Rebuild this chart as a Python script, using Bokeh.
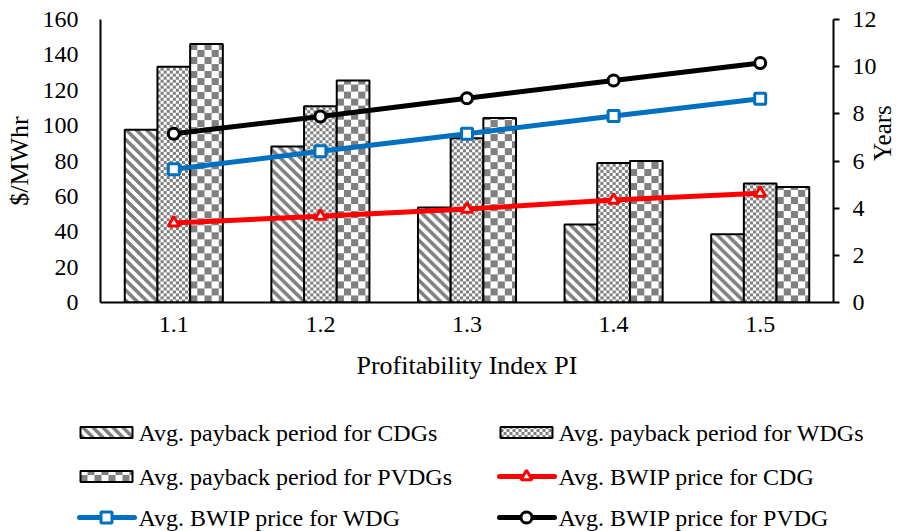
import math

import numpy as np
from bokeh.core.properties import value
from bokeh.embed import file_html
from bokeh.layouts import column
from bokeh.models import (ColumnDataSource, FixedTicker, LinearAxis, Range1d,
                          SingleIntervalTicker)
from bokeh.plotting import figure
from bokeh.resources import INLINE

# ---- data -------------------------------------------------------------
categories = ["1.1", "1.2", "1.3", "1.4", "1.5"]

# average payback period (years, right axis)
payback_cdg = [7.33, 6.62, 4.03, 3.31, 2.89]
payback_wdg = [10.0, 8.32, 6.96, 5.92, 5.05]
payback_pvdg = [10.96, 9.41, 7.82, 6.0, 4.9]

# average BWIP price ($/MWhr, left axis)
price_cdg = [45.0, 48.8, 52.8, 57.9, 61.8]
price_wdg = [75.3, 85.5, 95.4, 105.4, 115.2]
price_pvdg = [95.4, 105.2, 115.5, 125.5, 135.4]

FONT = "Liberation Serif"
FS = "24px"          # tick labels and legend
FS_TITLE = "26px"    # axis titles

# page / plot frame geometry (pixels)
PAGE_W, PAGE_H = 914, 531
CHART_H = 402
FRAME_W, FRAME_H = 733, 283
YEARS_MAX = 12
PX_PER_CAT = FRAME_W / len(categories)
PX_PER_YEAR = FRAME_H / YEARS_MAX

GRAY = np.uint32(0xFF808080)
WHITE = np.uint32(0xFFFFFFFF)


def pattern(kind, h, w):
    """Raster fill for a bar: diagonal stripes, fine or coarse checkerboard."""
    r, c = np.mgrid[0:h, 0:w]
    if kind == "stripes":
        dark = (c + r) % 10 < 5
    elif kind == "fine":
        dark = (c // 3 + r // 3) % 2 == 0
    else:
        dark = (c // 7 + r // 7) % 2 == 0
    return np.where(dark, GRAY, WHITE).astype(np.uint32)


centers = [i + 0.5 for i in range(len(categories))]
bw = 0.223

p = figure(
    width=PAGE_W, height=CHART_H,
    x_range=Range1d(0, len(categories)),
    y_range=Range1d(0, 160),
    output_backend="svg", toolbar_location=None,
    min_border_left=100, min_border_right=81, min_border_top=19,
    min_border_bottom=CHART_H - 19 - FRAME_H,
)
p.extra_y_ranges = {"years": Range1d(0, YEARS_MAX)}
p.outline_line_color = None
p.xgrid.visible = False
p.ygrid.visible = False
try:
    p.frame_align = False
except Exception:
    pass

# ---- bars: patterned raster fill + black outline ------------------------
series = [("stripes", payback_cdg, -bw), ("fine", payback_wdg, 0.0), ("coarse", payback_pvdg, bw)]
for kind, tops, off in series:
    xs = [c + off for c in centers]
    imgs = [pattern(kind, max(1, round(t * PX_PER_YEAR)), round(bw * PX_PER_CAT)) for t in tops]
    p.image_rgba(image=imgs, x=[x - bw / 2 for x in xs], y=[0] * len(xs),
                 dw=[bw] * len(xs), dh=tops, y_range_name="years")
    p.vbar(x=xs, top=tops, width=bw, y_range_name="years",
           fill_alpha=0, line_color="black", line_width=2)

# ---- price lines --------------------------------------------------------
lines = [(price_cdg, "#FF0000", "triangle"),
         (price_wdg, "#0070C0", "square"),
         (price_pvdg, "#000000", "circle")]
for vals, color, marker in lines:
    p.line(centers, vals, line_color=color, line_width=5, line_cap="round")
    p.scatter(centers, vals, marker=marker, size=11, line_color=color, line_width=3,
              fill_color="white")


# ---- axes ---------------------------------------------------------------
def style_axis(ax, title_size=FS_TITLE):
    ax.axis_line_color = "black"
    ax.axis_line_width = 2
    ax.major_label_text_font = FONT
    ax.major_label_text_font_size = FS
    ax.major_label_text_color = "black"
    ax.axis_label_text_font = FONT
    ax.axis_label_text_font_size = title_size
    ax.axis_label_text_font_style = "normal"
    ax.axis_label_text_color = "black"
    ax.minor_tick_line_color = None


xa = p.xaxis[0]
style_axis(xa)
xa.axis_label = "Profitability Index PI"
xa.ticker = FixedTicker(ticks=centers)
xa.major_label_overrides = {c: lab for c, lab in zip(centers, categories)}
xa.major_tick_line_color = None
xa.major_tick_out = 0
xa.major_label_standoff = 14
xa.axis_label_standoff = 16

ya = p.yaxis[0]
style_axis(ya)
ya.axis_label = "$/MWhr"
ya.ticker = SingleIntervalTicker(interval=20)
ya.major_tick_line_color = None
ya.major_tick_out = 0
ya.major_tick_in = 0
ya.major_label_standoff = 18
ya.axis_label_standoff = 6

ra = LinearAxis(y_range_name="years", axis_label="Years",
                ticker=SingleIntervalTicker(interval=2))
style_axis(ra, "25px")
ra.major_tick_line_color = "black"
ra.major_tick_line_width = 2
ra.major_tick_out = 6
ra.major_tick_in = 0
ra.major_label_standoff = 13
ra.axis_label_standoff = 3
try:
    ra.axis_label_orientation = math.pi / 2
except Exception:
    pass
p.add_layout(ra, "right")

# ---- legend strip below the chart (pixel coordinates) ------------------
LG_W, LG_H = PAGE_W, PAGE_H - CHART_H
lg = figure(width=LG_W, height=LG_H, x_range=Range1d(0, LG_W), y_range=Range1d(0, LG_H),
            output_backend="svg", toolbar_location=None,
            min_border=0, x_axis_location=None, y_axis_location=None)
lg.outline_line_color = None
lg.xgrid.visible = False
lg.ygrid.visible = False
try:
    lg.frame_align = False
except Exception:
    pass

legend_labels = [
    "Avg. payback period for CDGs", "Avg. payback period for WDGs",
    "Avg. payback period for PVDGs", "Avg. BWIP price for CDG",
    "Avg. BWIP price for WDG", "Avg. BWIP price for PVDG",
]
legend_kinds = ["stripes", "fine", "coarse", lines[0], lines[1], lines[2]]
col_x = [80, 500]              # left edge of each legend column's key
row_page_y = [432, 476, 517]   # row centres measured from the top of the page
row_y = [PAGE_H - y for y in row_page_y]
KEY_W, KEY_H = 52, 11

txt = dict(x=[], y=[], text=[])
for i, (label, kind) in enumerate(zip(legend_labels, legend_kinds)):
    x0, yc = col_x[i % 2], row_y[i // 2]
    if isinstance(kind, str):
        lg.image_rgba(image=[pattern(kind, KEY_H, KEY_W)], x=x0, y=yc - KEY_H / 2,
                      dw=KEY_W, dh=KEY_H)
        lg.quad(left=x0, right=x0 + KEY_W, bottom=yc - KEY_H / 2, top=yc + KEY_H / 2,
                fill_alpha=0, line_color="black", line_width=2)
    else:
        _, color, marker = kind
        lg.line([x0 - 1, x0 + KEY_W + 2], [yc, yc], line_color=color, line_width=5,
                line_cap="round")
        lg.scatter([x0 + KEY_W / 2], [yc], marker=marker, size=11, line_color=color,
                   line_width=3, fill_color="white")
    txt["x"].append(x0 + KEY_W + 6)
    txt["y"].append(yc)
    txt["text"].append(label)

lg.text(x="x", y="y", text="text", source=ColumnDataSource(txt),
        text_font=value(FONT), text_font_size=FS, text_color="black",
        text_baseline="middle", text_align="left")

open("out.html", "w").write(file_html(column(p, lg, spacing=0), INLINE))
